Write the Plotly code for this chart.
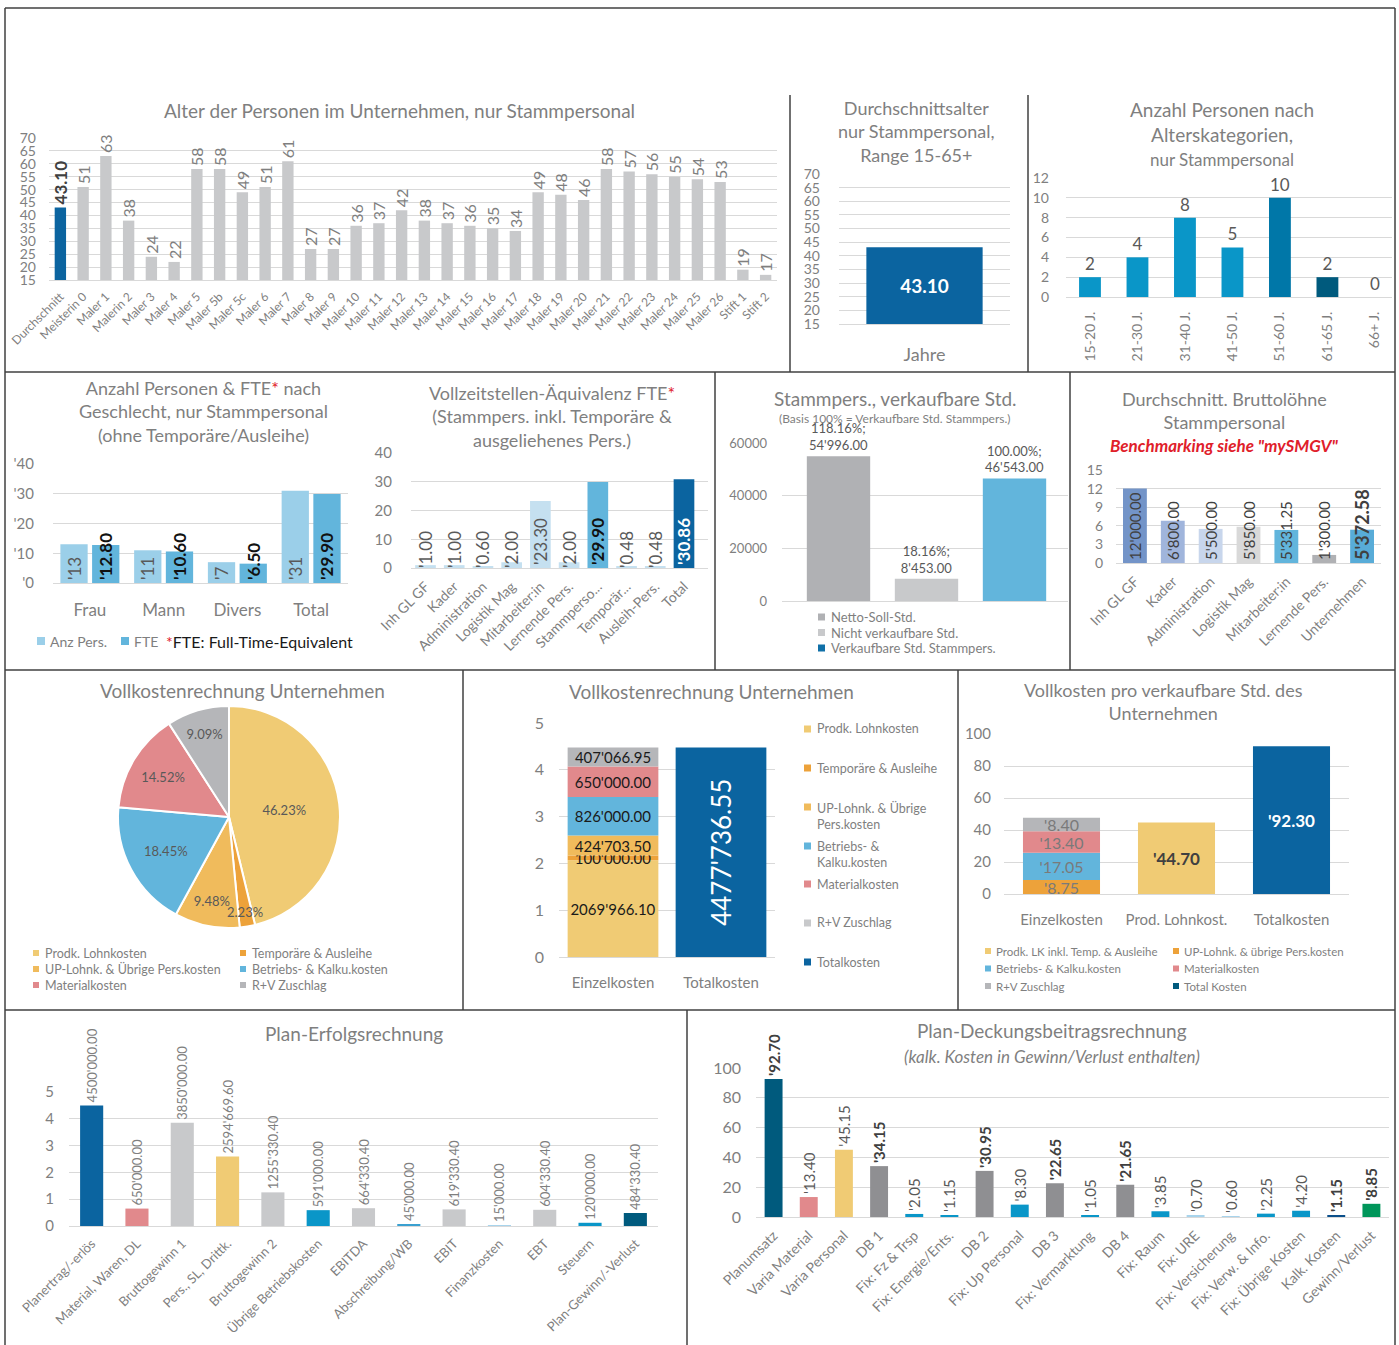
import math
import plotly.graph_objects as go

# ======================= DATA =======================
age_names = ["Durchschnitt", "Meisterin 0", "Maler 1", "Malerin 2", "Maler 3", "Maler 4",
             "Maler 5", "Maler 5b", "Maler 5c", "Maler 6", "Maler 7", "Maler 8", "Maler 9",
             "Maler 10", "Maler 11", "Maler 12", "Maler 13", "Maler 14", "Maler 15", "Maler 16",
             "Maler 17", "Maler 18", "Maler 19", "Maler 20", "Maler 21", "Maler 22", "Maler 23",
             "Maler 24", "Maler 25", "Maler 26", "Stift 1", "Stift 2"]
age_values = [43.10, 51, 63, 38, 24, 22, 58, 58, 49, 51, 61, 27, 27, 36, 37, 42, 38, 37, 36, 35,
              34, 49, 48, 46, 58, 57, 56, 55, 54, 53, 19, 17]
AGE_AXIS_MIN = 15

avg_names = ["Jahre"]
avg_values = [43.10]

agecat_names = ["15-20 J.", "21-30 J.", "31-40 J.", "41-50 J.", "51-60 J.", "61-65 J.", "66+ J."]
agecat_counts = [2, 4, 8, 5, 10, 2, 0]

gender_names = ["Frau", "Mann", "Divers", "Total"]
gender_pers = [13, 11, 7, 31]
gender_fte = [12.80, 10.60, 6.50, 29.90]

fte_names = ["Inh GL GF", "Kader", "Administration", "Logistik Mag", "Mitarbeiter:in",
             "Lernende Pers.", "Stammperso...", "Temporär...", "Ausleih-Pers.", "Total"]
fte_values = [1.00, 1.00, 0.60, 2.00, 23.30, 2.00, 29.90, 0.48, 0.48, 30.86]

hours_names = ["Netto-Soll-Std.", "Nicht verkaufbare Std.", "Verkaufbare Std. Stammpers."]
hours_values = [54996.00, 8453.00, 46543.00]

wage_names = ["Inh GL GF", "Kader", "Administration", "Logistik Mag", "Mitarbeiter:in",
              "Lernende Pers.", "Unternehmen"]
wage_values = [12000.00, 6800.00, 5500.00, 5850.00, 5331.25, 1300.00, 5372.58]

cost_names = ["Prodk. Lohnkosten", "Temporäre & Ausleihe", "UP-Lohnk. & Übrige Pers.kosten",
              "Betriebs- & Kalku.kosten", "Materialkosten", "R+V Zuschlag"]
cost_values = [2069966.10, 100000.00, 424703.50, 826000.00, 650000.00, 407066.95]
cost_total = 4477736.55
cost_cats = ["Einzelkosten", "Totalkosten"]

ph_cats = ["Einzelkosten", "Prod. Lohnkost.", "Totalkosten"]
ph_names = ["UP-Lohnk. & übrige Pers.kosten", "Betriebs- & Kalku.kosten", "Materialkosten", "R+V Zuschlag"]
ph_values = [8.75, 17.05, 13.40, 8.40]
ph_prod = 44.70
ph_total = 92.30

er_names = ["Planertrag/-erlös", "Material, Waren, DL", "Bruttogewinn 1", "Pers., SL, Drittk.",
            "Bruttogewinn 2", "Übrige Betriebskosten", "EBITDA", "Abschreibung/WB", "EBIT",
            "Finanzkosten", "EBT", "Steuern", "Plan-Gewinn/-Verlust"]
er_values = [4500000.00, 650000.00, 3850000.00, 2594669.60, 1255330.40, 591000.00, 664330.40,
             45000.00, 619330.40, 15000.00, 604330.40, 120000.00, 484330.40]

db_names = ["Planumsatz", "Varia Material", "Varia Personal", "DB 1", "Fix: Fz & Trsp",
            "Fix: Energie/Ents.", "DB 2", "Fix: Up Personal", "DB 3", "Fix: Vermarktung", "DB 4",
            "Fix: Raum", "Fix: URE", "Fix: Versicherung", "Fix: Verw. & Info.", "Fix: Übrige Kosten",
            "Kalk. Kosten", "Gewinn/Verlust"]
db_values = [92.70, 13.40, 45.15, 34.15, 2.05, 1.15, 30.95, 8.30, 22.65, 1.05, 21.65, 3.85, 0.70,
             0.60, 2.25, 4.20, 1.15, 8.85]

# ======================= STYLE =======================
W, H = 1399, 1345
FONT = "Lato, 'Open Sans', 'DejaVu Sans', sans-serif"
GRAY = "#7f7f7f"
DGRAY = "#595959"
GRID = "#d9d9d9"
BORDER = "#404040"
RED = "#e0202a"
BLUE_D = "#0b64a0"
BLUE = "#0a96c8"
BLUE_M = "#62b5dc"
BLUE_L = "#9bcfe9"
BLUE_XL = "#c5e0f0"
YEL = "#f0cb74"
ORG = "#eda23a"
ORG_L = "#f0bb5c"
PINK = "#e1898c"
GR = "#c8c9cb"
GR2 = "#b5b6b9"
TEAL = "#005a7d"

agecat_colors = [BLUE, BLUE, BLUE, BLUE, "#0077a8", TEAL, TEAL]
fte_colors = [BLUE_XL] * 6 + [BLUE_M] + [BLUE_XL] * 2 + [BLUE_D]
hours_colors = ["#b0b1b4", GR, BLUE_M]
wage_colors = ["#7394c8", "#a0b5dc", "#c8d6ec", "#d9d9d9", BLUE_M, "#b0b1b4", "#58acd8"]
cost_colors = [YEL, ORG, ORG_L, BLUE_M, PINK, GR2]
ph_colors = [ORG, BLUE_M, PINK, GR2]
er_colors = [BLUE_D, PINK, GR, YEL, GR, BLUE, GR, "#3aa0d0", GR, "#a8d4ec", GR, BLUE, TEAL]
db_colors = [TEAL, PINK, YEL, "#8f8f92", BLUE, BLUE, "#8f8f92", BLUE, "#8f8f92", BLUE, "#8f8f92",
             BLUE, "#a8d4ec", "#a8d4ec", BLUE, BLUE, "#0b4f8a", "#00965a"]
db_bold = {"Planumsatz", "DB 1", "DB 2", "DB 3", "DB 4", "Kalk. Kosten", "Gewinn/Verlust"}


def X(p):
    return p / W


def Y(p):
    return 1 - p / H


def fmt(v, dec=2):
    s = f"{v:.{dec}f}"
    if "." in s:
        ip, fp = s.split(".")
        fp = "." + fp
    else:
        ip, fp = s, ""
    ip = ip[:-3] + "'" + ip[-3:] if len(ip) > 3 else "'" + ip
    return ip + fp


layout = dict(template="none", width=W, height=H, margin=dict(l=0, r=0, t=0, b=0, autoexpand=False),
              paper_bgcolor="white", plot_bgcolor="white", barmode="overlay", showlegend=False,
              font=dict(family=FONT, color=GRAY))
traces = []
ann = []
shapes = []


def axes(n, x0, x1, ytop, ybot, yrange, dtick, cats, ysize=14, xsize=14, xangle=0,
         yprefix="", showx=True, xstand=4, ystand=8, xrange=None):
    sx = "" if n == 1 else str(n)
    eps = (yrange[1] - yrange[0]) * 1e-4
    layout["xaxis" + sx] = dict(domain=[X(x0), X(x1)], anchor="y" + sx, type="category",
                                categoryorder="array", categoryarray=cats, automargin=False,
                                range=xrange if xrange else [-0.5, len(cats) - 0.5],
                                showgrid=False, showline=True, linecolor=GRID, linewidth=1,
                                ticks="", showticklabels=showx, tickangle=xangle,
                                tickfont=dict(size=xsize, color=GRAY, family=FONT),
                                ticklabelstandoff=xstand, fixedrange=True)
    layout["yaxis" + sx] = dict(domain=[Y(ybot), Y(ytop)], anchor="x" + sx, automargin=False,
                                range=[yrange[0], yrange[1] + eps], dtick=dtick, tick0=yrange[0],
                                tickformat="d", showgrid=True, gridcolor=GRID, gridwidth=1,
                                zeroline=False, showline=False, ticks="", tickprefix=yprefix,
                                tickfont=dict(size=ysize, color=GRAY, family=FONT),
                                ticklabelstandoff=ystand, fixedrange=True)
    return "x" + sx, "y" + sx


def bars(ax, x, y, color, width, text=None, pos="none", angle=0, tsize=14, tcolor=DGRAY,
         base=None, offset=None, anchor="middle"):
    traces.append(go.Bar(x=x, y=y, xaxis=ax[0], yaxis=ax[1], base=base, offset=offset,
                         width=width, marker=dict(color=color, line=dict(width=0)),
                         text=text, textposition=pos, textangle=angle,
                         textfont=dict(size=tsize, color=tcolor, family=FONT),
                         insidetextanchor=anchor, constraintext="none", cliponaxis=False,
                         hoverinfo="skip"))


def text(xp, yp, t, size, color=GRAY, xanchor="center", yanchor="middle"):
    ann.append(dict(x=X(xp), y=Y(yp), xref="paper", yref="paper", text=t, showarrow=False,
                    xanchor=xanchor, yanchor=yanchor, align="left" if xanchor == "left" else "center",
                    font=dict(size=size, color=color, family=FONT)))


def legend_item(xp, yp, color, label, size=12, s=7, gap=4, two_lines=False):
    shapes.append(dict(type="rect", xref="paper", yref="paper", x0=X(xp), x1=X(xp + s),
                       y0=Y(yp + s / 2), y1=Y(yp - s / 2), fillcolor=color, line=dict(width=0)))
    if two_lines:
        text(xp + s + gap, yp - size * 0.75, label, size, xanchor="left", yanchor="top")
    else:
        text(xp + s + gap, yp, label, size, xanchor="left")


def line(x0, y0, x1, y1):
    shapes.append(dict(type="line", xref="paper", yref="paper", x0=X(x0), y0=Y(y0), x1=X(x1),
                       y1=Y(y1), line=dict(color=BORDER, width=1.5)))


# ---------- frame ----------
line(5, 8, 1395, 8)
line(5, 8, 5, 1345)
line(1395, 8, 1395, 1345)
line(790, 95, 790, 372)
line(1028, 95, 1028, 372)
line(5, 372, 1395, 372)
line(715, 372, 715, 670)
line(1070, 372, 1070, 670)
line(5, 670, 1395, 670)
line(463, 670, 463, 1010)
line(958, 670, 958, 1010)
line(5, 1010, 1395, 1010)
line(687, 1010, 687, 1345)

# ---------- 1: Alter ----------
a1 = axes(1, 49, 777, 138, 280, [AGE_AXIS_MIN, 70], 5, age_names, ysize=14, xsize=12, xangle=-45, ystand=12)
bars(a1, age_names, [v - AGE_AXIS_MIN for v in age_values], [BLUE_D] + [GR] * (len(age_values) - 1),
     0.5, text=[f"<b>{age_values[0]:.2f}</b>"] + [f"{v:.0f}" for v in age_values[1:]], pos="outside",
     angle=-90, tsize=[17] + [16] * (len(age_values) - 1),
     tcolor=["#404040"] + [GRAY] * (len(age_values) - 1), base=AGE_AXIS_MIN)
text(399, 111, "Alter der Personen im Unternehmen, nur Stammpersonal", 19)

# ---------- 2: Durchschnittsalter ----------
a2 = axes(2, 839, 1010, 174, 324, [AGE_AXIS_MIN, 70], 5, avg_names, ysize=14, xsize=18, xstand=14, ystand=18)
bars(a2, avg_names, [v - AGE_AXIS_MIN for v in avg_values], BLUE_D, 0.68,
     text=[f"<b>{v:.2f}</b>" for v in avg_values], pos="inside", tsize=19, tcolor="white",
     base=AGE_AXIS_MIN)
text(917, 131, "Durchschnittsalter<br>nur Stammpersonal,<br>Range 15-65+", 18)

# ---------- 3: Alterskategorien ----------
a3 = axes(3, 1066, 1392, 178, 297, [0, 12], 2, agecat_names, ysize=14, xsize=14, xangle=-90,
          xstand=8, ystand=16, xrange=[-0.505, 6.36])
bars(a3, agecat_names, agecat_counts, agecat_colors, 0.46, text=[str(v) for v in agecat_counts],
     pos="outside", tsize=17, tcolor=DGRAY)
text(1222, 134, "Anzahl Personen nach<br>Alterskategorien,<br><span style='font-size:17px'>nur Stammpersonal</span>", 19)

# ---------- 4: Geschlecht ----------
a4 = axes(4, 53, 348, 464, 583, [0, 40], 10, gender_names, ysize=15, xsize=17, yprefix="'",
          xstand=12, ystand=18)
bars(a4, gender_names, gender_pers, BLUE_L, 0.37, offset=-0.40,
     text=[fmt(v, 0) for v in gender_pers], pos="inside", angle=-90, tsize=17, tcolor=DGRAY, anchor="start")
bars(a4, gender_names, gender_fte, BLUE_M, 0.37, offset=0.03,
     text=[f"<b>{fmt(v)}</b>" for v in gender_fte], pos="inside", angle=-90, tsize=17,
     tcolor="#111111", anchor="start")
text(203, 412, f"Anzahl Personen & FTE<span style='color:{RED}'>*</span> nach<br>Geschlecht, nur Stammpersonal<br>(ohne Temporäre/Ausleihe)", 18)
legend_item(37, 641, BLUE_L, "Anz Pers.", size=14, s=8, gap=3)
legend_item(121, 641, BLUE_M, "FTE", size=14, s=8, gap=3)
text(164, 641, f"<span style='color:{RED}'>*</span>FTE: Full-Time-Equivalent", 16, color="#1a1a1a", xanchor="left")

# ---------- 5: FTE ----------
a5 = axes(5, 411, 708, 453, 568, [0, 40], 10, fte_names, ysize=15, xsize=14, xangle=-45,
          ystand=18, xrange=[-0.505, 9.836])
fte_text, fte_tcol = [], []
for nm, v in zip(fte_names, fte_values):
    if nm == "Total":
        fte_text.append(f"<b>{fmt(v)}</b>"); fte_tcol.append("white")
    elif nm.startswith("Stamm"):
        fte_text.append(f"<b>{fmt(v)}</b>"); fte_tcol.append("#111111")
    else:
        fte_text.append(fmt(v)); fte_tcol.append(DGRAY)
bars(a5, fte_names, fte_values, fte_colors, 0.72, text=fte_text, pos="inside", angle=-90,
     tsize=17, tcolor=fte_tcol, anchor="start")
text(552, 416, f"Vollzeitstellen-Äquivalenz FTE<span style='color:{RED}'>*</span><br>(Stammpers. inkl. Temporäre &<br>ausgeliehenes Pers.)", 18)

# ---------- 6: Stunden ----------
a6 = axes(6, 782, 1068, 443, 601, [0, 60000], 20000, hours_names, ysize=13, showx=False,
          ystand=14, xrange=[-0.642, 2.608])
bars(a6, hours_names, hours_values, hours_colors, 0.72,
     text=[f"{v / hours_values[-1] * 100:.2f}%;<br>{fmt(v)}" for v in hours_values],
     pos="outside", tsize=13, tcolor=DGRAY)
text(895, 398, "Stammpers., verkaufbare Std.", 19)
text(895, 418, "(Basis 100% = Verkaufbare Std. Stammpers.)", 12)
for i, (nm, c) in enumerate(zip(hours_names, ["#b0b1b4", GR, "#1070a8"])):
    legend_item(818, 617 + i * 15.5, c, nm, size=13, s=7, gap=4)

# ---------- 7: Bruttolöhne ----------
a7 = axes(7, 1116, 1381, 470, 563, [0, 15], 3, wage_names, ysize=14, xsize=14, xangle=-45, ystand=12)
bars(a7, wage_names, [v / 1000 for v in wage_values], wage_colors, 0.63,
     text=[fmt(v) if i < len(wage_values) - 1 else f"<b>{fmt(v)}</b>" for i, v in enumerate(wage_values)],
     pos="inside", angle=-90, tsize=[15] * (len(wage_values) - 1) + [18], tcolor="#404040", anchor="start")
text(1224, 410, "Durchschnitt. Bruttolöhne<br>Stammpersonal", 18)
text(1224, 445, "<b><i>Benchmarking siehe \"mySMGV\"</i></b>", 17, color=RED)

# ---------- 8: Pie ----------
PIE_CX, PIE_CY, PIE_R = 229, 817, 111
cost_sum = sum(cost_values)
cost_pct = [v / cost_sum for v in cost_values]
small = [p < 0.05 for p in cost_pct]
traces.append(go.Pie(labels=cost_names, values=cost_values, sort=False, direction="clockwise",
                     rotation=0,
                     domain=dict(x=[X(PIE_CX - PIE_R), X(PIE_CX + PIE_R)],
                                 y=[Y(PIE_CY + PIE_R), Y(PIE_CY - PIE_R)]),
                     marker=dict(colors=cost_colors, line=dict(color="white", width=2)),
                     texttemplate="%{percent:.2%}",
                     textposition=["none" if s else "inside" for s in small],
                     insidetextorientation="horizontal",
                     textfont=dict(size=13, color=DGRAY, family=FONT), hoverinfo="skip",
                     showlegend=False))
# labels of thin slices placed near the rim, at the slice's mid-angle
acc = 0.0
for p, s in zip(cost_pct, small):
    mid = (acc + p / 2) * 2 * math.pi
    acc += p
    if s:
        text(PIE_CX + 0.87 * PIE_R * math.sin(mid), PIE_CY - 0.87 * PIE_R * math.cos(mid),
             f"{p * 100:.2f}%", 13, color=DGRAY)
text(242, 690, "Vollkostenrechnung Unternehmen", 19)
for i, (nm, c) in enumerate(zip(cost_names, cost_colors)):
    col, row = i % 2, i // 2
    legend_item(33 if col == 0 else 240, 953 + row * 16, c, nm, size=12.5, s=6, gap=4)

# ---------- 9: Vollkosten gestapelt ----------
a9 = axes(9, 559, 775, 723, 957, [0, 5], 1, cost_cats, ysize=16, xsize=15, xstand=12, ystand=14)
cum = 0.0
for nm, v, c in zip(cost_names, cost_values, cost_colors):
    bars(a9, [cost_cats[0]], [v / 1e6], c, 0.84, text=[fmt(v)], pos="inside", tsize=15,
         tcolor="#1a1a1a", base=[cum / 1e6])
    cum += v
bars(a9, [cost_cats[1]], [cost_total / 1e6], BLUE_D, 0.84, text=[fmt(cost_total)], pos="inside",
     angle=-90, tsize=26, tcolor="white")
text(711, 691, "Vollkostenrechnung Unternehmen", 19)
leg9 = [(729, YEL, "Prodk. Lohnkosten", False), (768, ORG, "Temporäre & Ausleihe", False),
        (807, ORG_L, "UP-Lohnk. & Übrige<br>Pers.kosten", True),
        (846, BLUE_M, "Betriebs- &<br>Kalku.kosten", True), (884, PINK, "Materialkosten", False),
        (923, GR, "R+V Zuschlag", False), (962, BLUE_D, "Totalkosten", False)]
for yy, c, nm, two in leg9:
    legend_item(804, yy, c, nm, size=12.5, s=7, gap=4, two_lines=two)

# ---------- 10: Vollkosten pro Std. ----------
a10 = axes(10, 1004, 1349, 734, 894, [0, 100], 20, ph_cats, ysize=15, xsize=15, xstand=12, ystand=12)
cum = 0.0
for nm, v, c in zip(ph_names, ph_values, ph_colors):
    bars(a10, [ph_cats[0]], [v], c, 0.67, text=[fmt(v)], pos="inside", tsize=16, tcolor="#7a7a7a",
         base=[cum])
    cum += v
bars(a10, [ph_cats[1]], [ph_prod], YEL, 0.67, text=[f"<b>{fmt(ph_prod)}</b>"], pos="inside",
     tsize=17, tcolor="#404040")
bars(a10, [ph_cats[2]], [ph_total], BLUE_D, 0.67, text=[f"<b>{fmt(ph_total)}</b>"], pos="inside",
     tsize=17, tcolor="white")
text(1163, 701, "Vollkosten pro verkaufbare Std. des<br>Unternehmen", 18)
leg10 = [(YEL, "Prodk. LK inkl. Temp. & Ausleihe"), (ORG, "UP-Lohnk. & übrige Pers.kosten"),
         (BLUE_M, "Betriebs- & Kalku.kosten"), (PINK, "Materialkosten"),
         (GR2, "R+V Zuschlag"), (TEAL, "Total Kosten")]
for i, (c, nm) in enumerate(leg10):
    col, row = i % 2, i // 2
    legend_item(985 if col == 0 else 1173, 951 + row * 17.5, c, nm, size=11.5, s=6, gap=3)

# ---------- 11: Plan-Erfolgsrechnung ----------
a11 = axes(11, 69, 658, 1092, 1226, [0, 5], 1, er_names, ysize=15, xsize=13, xangle=-45, ystand=14)
bars(a11, er_names, [v / 1e6 for v in er_values], er_colors, 0.51, text=[fmt(v) for v in er_values],
     pos="outside", angle=-90, tsize=13, tcolor=GRAY)
text(354, 1033, "Plan-Erfolgsrechnung", 19)

# ---------- 12: Plan-Deckungsbeitragsrechnung ----------
a12 = axes(12, 756, 1389, 1068, 1217, [0, 100], 20, db_names, ysize=16, xsize=14, xangle=-45, ystand=14)
bars(a12, db_names, db_values, db_colors, 0.51,
     text=[f"<b>{fmt(v)}</b>" if nm in db_bold else fmt(v) for nm, v in zip(db_names, db_values)],
     pos="outside", angle=-90, tsize=15,
     tcolor=["#404040" if nm in db_bold else DGRAY for nm in db_names])
text(1052, 1030, "Plan-Deckungsbeitragsrechnung", 19)
text(1052, 1056, "<i>(kalk. Kosten in Gewinn/Verlust enthalten)</i>", 17)

layout["annotations"] = ann
layout["shapes"] = shapes
fig = go.Figure(data=traces, layout=layout)
fig.write_html("out.html")
